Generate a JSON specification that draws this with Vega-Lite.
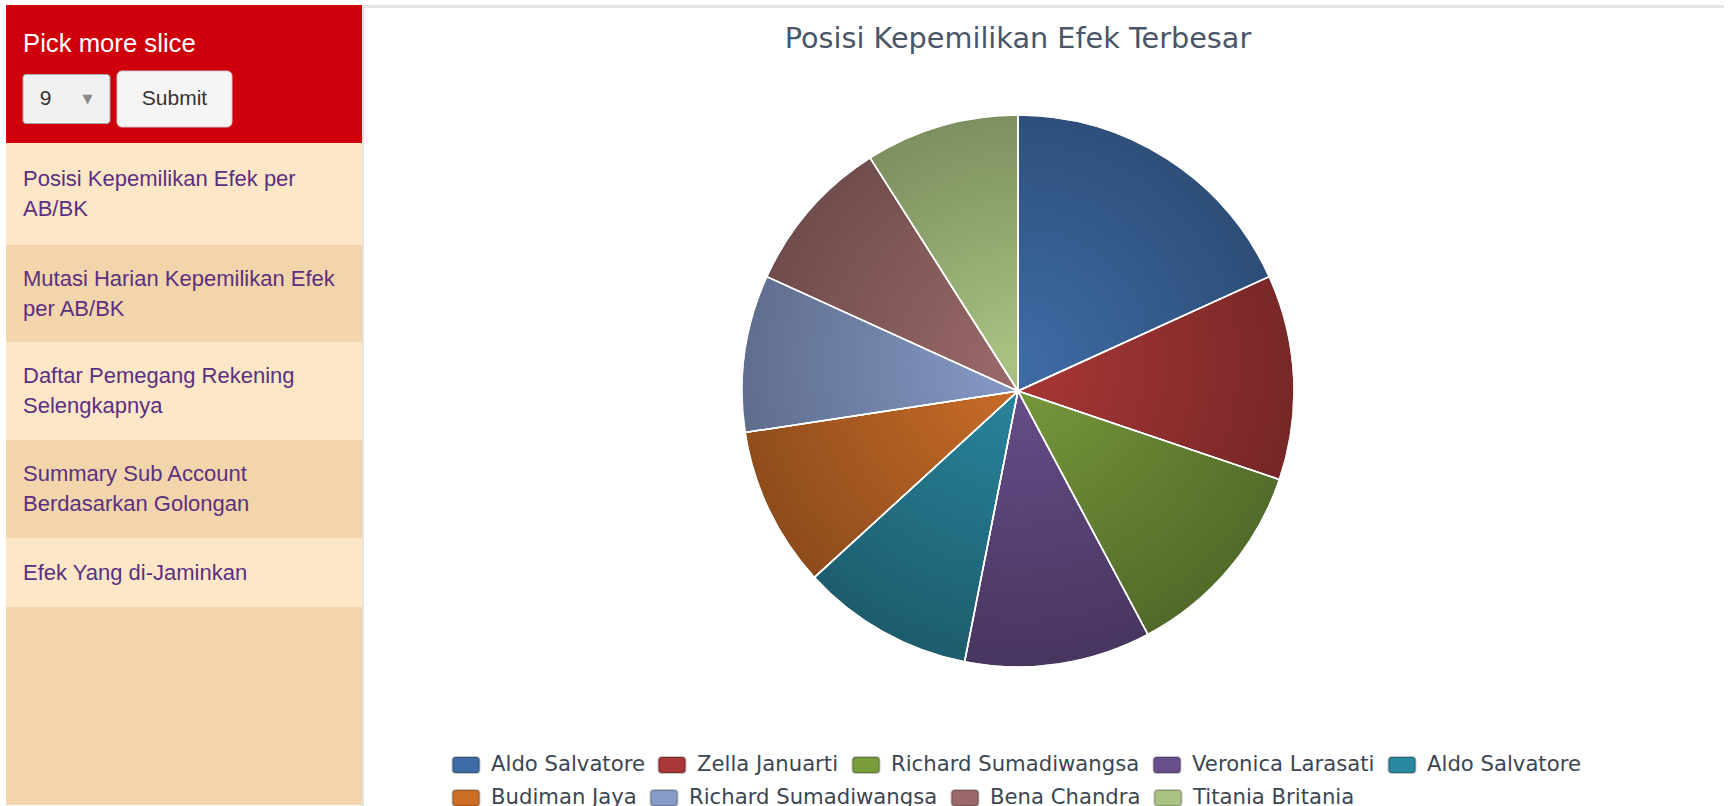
{
  "$schema": "https://vega.github.io/schema/vega-lite/v6.json",
  "background": "#ffffff",
  "padding": {"left": 6, "top": 5, "right": 0, "bottom": 0},
  "config": {
    "view": {"stroke": null},
    "legend": {
      "layout": {"bottom": {"anchor": "middle", "direction": "vertical", "center": false, "margin": 10}},
      "orient": "bottom", "direction": "horizontal", "padding": 0, "offset": 85,
      "symbolType": "M-1,-0.8 L1,-0.8 Q1.35,-0.8 1.35,-0.45 L1.35,0.45 Q1.35,0.8 1,0.8 L-1,0.8 Q-1.35,0.8 -1.35,0.45 L-1.35,-0.45 Q-1.35,-0.8 -1,-0.8 Z",
      "symbolSize": 400, "symbolStrokeWidth": 2, "symbolStrokeColor": "rgba(0,0,0,0.22)", "symbolOpacity": 1,
      "labelFont": "DejaVu Sans", "labelFontSize": 21.2, "labelColor": "#3c4652",
      "labelOffset": 14, "labelLimit": 400, "columnPadding": 9
    }
  },
  "spacing": 0,
  "resolve": {"scale": {"color": "independent"}, "legend": {"color": "independent"}},
  "hconcat": [
    {
      "spacing": 0,
      "vconcat": [
        {
          "width": 356, "height": 138,
          "view": {"fill": "#cf000c", "stroke": null},
          "data": {"values": [
            {"part": "heading", "control": "heading", "label": "Pick more slice"},
            {"part": "form", "control": "select", "label": "9"},
            {"part": "form", "control": "submit", "label": "Submit"}
          ]},
          "encoding": {
            "y": {"field": "part", "type": "nominal", "axis": null, "sort": ["heading", "form"], "scale": {"type": "point", "range": [39, 94], "padding": 0}}
          },
          "layer": [
            {
              "transform": [{"filter": "datum.part == 'heading'"}],
              "mark": {"type": "text", "align": "left", "baseline": "middle", "font": "Liberation Sans", "fontSize": 25.7, "color": "#ffffff"},
              "encoding": {
                "x": {"field": "part", "type": "nominal", "axis": null, "scale": {"type": "point", "range": [17, 17]}},
                "text": {"field": "label", "type": "nominal"}
              }
            },
            {
              "transform": [{"filter": "datum.part == 'form'"}],
              "encoding": {
                "x": {"field": "control", "type": "nominal", "axis": null, "sort": ["select", "submit"], "scale": {"type": "point", "range": [60.5, 168.5], "padding": 0}}
              },
              "layer": [
                {
                  "transform": [{"filter": "datum.control == 'select'"}],
                  "mark": {"type": "rect", "width": 87, "height": 49, "fill": "#f1f1f1", "stroke": "#a9a9a9", "strokeWidth": 1, "cornerRadius": 3}
                },
                {
                  "transform": [{"filter": "datum.control == 'submit'"}],
                  "mark": {"type": "rect", "width": 115, "height": 56, "fill": "#f5f5f5", "stroke": "#c8c8c8", "strokeWidth": 1, "cornerRadius": 5}
                },
                {
                  "transform": [{"filter": "datum.control == 'select'"}],
                  "mark": {"type": "text", "align": "center", "baseline": "middle", "dx": -21, "font": "Liberation Sans", "fontSize": 21, "color": "#333333"},
                  "encoding": {"text": {"field": "label", "type": "nominal"}}
                },
                {
                  "transform": [{"filter": "datum.control == 'select'"}],
                  "mark": {"type": "text", "align": "center", "baseline": "middle", "dx": 21, "font": "DejaVu Sans", "fontSize": 13, "color": "#8a8a8a", "text": "▼"}
                },
                {
                  "transform": [{"filter": "datum.control == 'submit'"}],
                  "mark": {"type": "text", "align": "center", "baseline": "middle", "font": "Liberation Sans", "fontSize": 21, "color": "#333333"},
                  "encoding": {"text": {"field": "label", "type": "nominal"}}
                }
              ]
            }
          ],
          "resolve": {"scale": {"x": "independent"}}
        },
        {
          "width": 356, "height": 102,
          "view": {"fill": "#fde7c7", "stroke": null},
          "data": {"values": [{"item": "Posisi Kepemilikan Efek per AB/BK", "lines": ["Posisi Kepemilikan Efek per", "AB/BK"]}]},
          "mark": {"type": "text", "align": "left", "baseline": "middle", "dy": -15, "font": "Liberation Sans", "fontSize": 22, "lineHeight": 30, "color": "#5b3080"},
          "encoding": {
            "x": {"field": "item", "type": "nominal", "axis": null, "scale": {"type": "point", "range": [17, 17]}},
            "text": {"field": "lines", "type": "nominal"}
          }
        },
        {
          "width": 356, "height": 97,
          "view": {"fill": "#f2d5ab", "stroke": null},
          "data": {"values": [{"item": "Mutasi Harian Kepemilikan Efek per AB/BK", "lines": ["Mutasi Harian Kepemilikan Efek", "per AB/BK"]}]},
          "mark": {"type": "text", "align": "left", "baseline": "middle", "dy": -15, "font": "Liberation Sans", "fontSize": 22, "lineHeight": 30, "color": "#5b3080"},
          "encoding": {
            "x": {"field": "item", "type": "nominal", "axis": null, "scale": {"type": "point", "range": [17, 17]}},
            "text": {"field": "lines", "type": "nominal"}
          }
        },
        {
          "width": 356, "height": 98,
          "view": {"fill": "#fde7c7", "stroke": null},
          "data": {"values": [{"item": "Daftar Pemegang Rekening Selengkapnya", "lines": ["Daftar Pemegang Rekening", "Selengkapnya"]}]},
          "mark": {"type": "text", "align": "left", "baseline": "middle", "dy": -15, "font": "Liberation Sans", "fontSize": 22, "lineHeight": 30, "color": "#5b3080"},
          "encoding": {
            "x": {"field": "item", "type": "nominal", "axis": null, "scale": {"type": "point", "range": [17, 17]}},
            "text": {"field": "lines", "type": "nominal"}
          }
        },
        {
          "width": 356, "height": 98,
          "view": {"fill": "#f2d5ab", "stroke": null},
          "data": {"values": [{"item": "Summary Sub Account Berdasarkan Golongan", "lines": ["Summary Sub Account", "Berdasarkan Golongan"]}]},
          "mark": {"type": "text", "align": "left", "baseline": "middle", "dy": -15, "font": "Liberation Sans", "fontSize": 22, "lineHeight": 30, "color": "#5b3080"},
          "encoding": {
            "x": {"field": "item", "type": "nominal", "axis": null, "scale": {"type": "point", "range": [17, 17]}},
            "text": {"field": "lines", "type": "nominal"}
          }
        },
        {
          "width": 356, "height": 69,
          "view": {"fill": "#fde7c7", "stroke": null},
          "data": {"values": [{"item": "Efek Yang di-Jaminkan", "lines": ["Efek Yang di-Jaminkan"]}]},
          "mark": {"type": "text", "align": "left", "baseline": "middle", "font": "Liberation Sans", "fontSize": 22, "lineHeight": 30, "color": "#5b3080"},
          "encoding": {
            "x": {"field": "item", "type": "nominal", "axis": null, "scale": {"type": "point", "range": [17, 17]}},
            "text": {"field": "lines", "type": "nominal"}
          }
        },
        {
          "width": 356, "height": 198,
          "view": {"fill": "#f2d5ab", "stroke": null},
          "data": {"values": []},
          "mark": "text",
          "encoding": {}
        }
      ]
    },
    {
      "width": 2, "height": 801,
      "view": {"fill": "#e3e3e3", "stroke": null},
      "data": {"values": []},
      "mark": "text",
      "encoding": {}
    },
    {
      "spacing": 17,
      "resolve": {"scale": {"color": "independent"}, "legend": {"color": "independent"}},
      "vconcat": [
        {
          "width": 1360, "height": 3,
          "view": {"fill": "#e4e4e4", "stroke": null},
          "data": {"values": []},
          "mark": "text",
          "encoding": {}
        },
        {
          "width": 1308, "height": 556,
          "title": {"text": "Posisi Kepemilikan Efek Terbesar", "anchor": "middle", "offset": 58, "font": "DejaVu Sans", "fontSize": 28.7, "fontWeight": "normal", "color": "#4a5567"},
          "data": {"values": [
            {"holder": "1 Aldo Salvatore", "value": 18.2},
            {"holder": "2 Zella Januarti", "value": 12.0},
            {"holder": "3 Richard Sumadiwangsa", "value": 12.0},
            {"holder": "4 Veronica Larasati", "value": 10.9},
            {"holder": "5 Aldo Salvatore", "value": 10.1},
            {"holder": "6 Budiman Jaya", "value": 9.4},
            {"holder": "7 Richard Sumadiwangsa", "value": 9.2},
            {"holder": "8 Bena Chandra", "value": 9.2},
            {"holder": "9 Titania Britania", "value": 9.0}
          ]},
          "resolve": {"scale": {"color": "independent"}, "legend": {"color": "independent"}},
          "layer": [
            {
              "mark": {"type": "arc", "outerRadius": 276, "stroke": "#ffffff", "strokeWidth": 1.5},
              "encoding": {
                "theta": {"field": "value", "type": "quantitative", "stack": true},
                "color": {
                  "field": "holder", "type": "nominal",
                  "scale": {"range": ["#3e6ca6", "#aa3737", "#789b3c", "#694f8c", "#2a88a0", "#cd6e28", "#879bc8", "#9b6969", "#aac382"]},
                  "legend": null
                }
              }
            },
            {
              "transform": [{"aggregate": [{"op": "sum", "field": "value", "as": "total"}]}],
              "mark": {
                "type": "arc", "outerRadius": 276,
                "fill": {"gradient": "radial", "x1": 0.5, "y1": 0.45, "r1": 0, "x2": 0.5, "y2": 0.45, "r2": 0.55,
                  "stops": [{"offset": 0, "color": "rgba(0,0,0,0)"}, {"offset": 1, "color": "rgba(0,0,0,0.32)"}]}
              },
              "encoding": {"theta": {"field": "total", "type": "quantitative", "stack": true}}
            },
            {
              "mark": {"type": "arc", "outerRadius": 276, "fillOpacity": 0, "stroke": "#ffffff", "strokeWidth": 1.5},
              "encoding": {
                "theta": {"field": "value", "type": "quantitative", "stack": true},
                "detail": {"field": "holder", "type": "nominal"}
              }
            },
            {
              "transform": [{"filter": "datum.holder < '6'"}],
              "mark": {"type": "arc", "outerRadius": 0, "opacity": 0},
              "encoding": {
                "color": {
                  "field": "holder", "type": "nominal",
                  "scale": {"range": ["#3e6ca6", "#aa3737", "#789b3c", "#694f8c", "#2a88a0"]},
                  "legend": {"title": null, "columns": 5, "symbolOpacity": 1, "labelExpr": "substring(datum.label, 2)"}
                }
              }
            },
            {
              "transform": [{"filter": "datum.holder > '6'"}],
              "mark": {"type": "arc", "outerRadius": 0, "opacity": 0},
              "encoding": {
                "color": {
                  "field": "holder", "type": "nominal",
                  "scale": {"range": ["#cd6e28", "#879bc8", "#9b6969", "#aac382"]},
                  "legend": {"title": null, "columns": 4, "symbolOpacity": 1, "labelExpr": "substring(datum.label, 2)"}
                }
              }
            }
          ]
        }
      ]
    }
  ]
}
